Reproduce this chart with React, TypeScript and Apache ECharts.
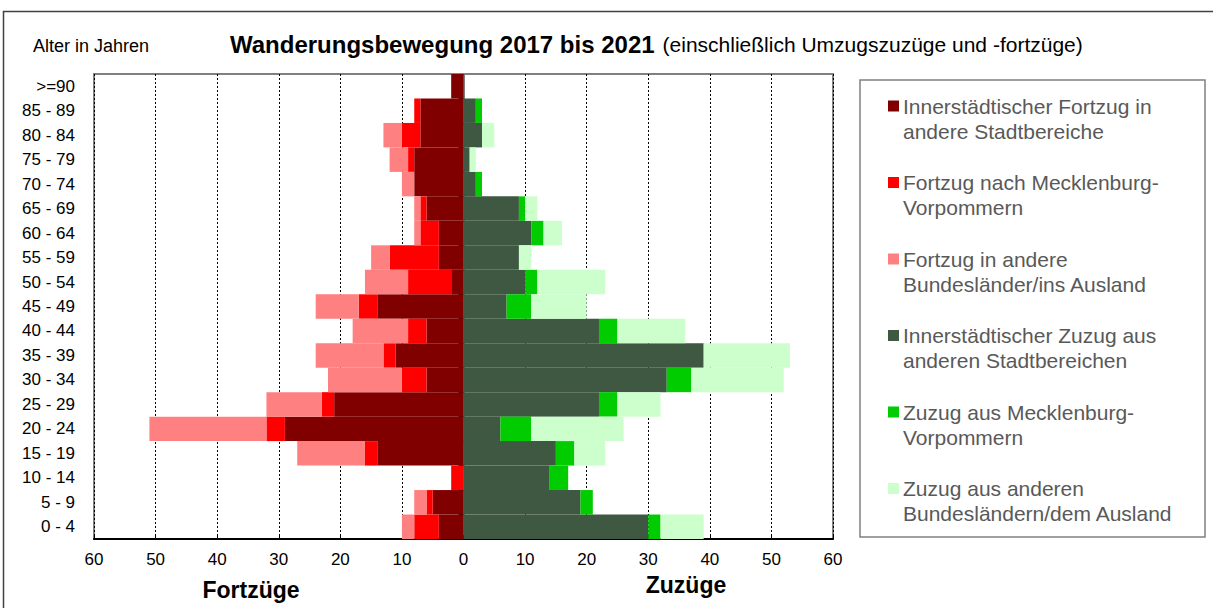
import React, { useEffect, useRef } from "react";
import * as echarts from "echarts";

const categories = ["0 - 4", "5 - 9", "10 - 14", "15 - 19", "20 - 24", "25 - 29", "30 - 34", "35 - 39", "40 - 44", "45 - 49", "50 - 54", "55 - 59", "60 - 64", "65 - 69", "70 - 74", "75 - 79", "80 - 84", "85 - 89", ">=90"];

// Fortzüge (drawn to the left)
const fortInnerstaedtisch = [4, 5, 0, 14, 29, 21, 6, 11, 6, 14, 2, 4, 4, 6, 8, 8, 7, 7, 2];
const fortMV = [4, 1, 2, 2, 3, 2, 4, 2, 3, 3, 7, 8, 3, 1, 0, 1, 3, 1, 0];
const fortAndere = [2, 2, 0, 11, 19, 9, 12, 11, 9, 7, 7, 3, 1, 1, 2, 3, 3, 0, 0];

// Zuzüge (drawn to the right)
const zuInnerstaedtisch = [30, 19, 14, 15, 6, 22, 33, 39, 22, 7, 10, 9, 11, 9, 2, 1, 3, 2, 0];
const zuMV = [2, 2, 3, 3, 5, 3, 4, 0, 3, 4, 2, 0, 2, 1, 1, 0, 0, 1, 0];
const zuAndere = [7, 0, 0, 5, 15, 7, 15, 14, 11, 9, 11, 2, 3, 2, 0, 1, 2, 0, 0];

const xTicks = { min: -60, max: 60, interval: 10 };

const seriesNames = [
  "Innerstädtischer Fortzug in\nandere Stadtbereiche",
  "Fortzug nach Mecklenburg-\nVorpommern",
  "Fortzug in andere\nBundesländer/ins Ausland",
  "Innerstädtischer Zuzug aus\nanderen Stadtbereichen",
  "Zuzug aus Mecklenburg-\nVorpommern",
  "Zuzug aus anderen\nBundesländern/dem Ausland",
];
const seriesColors = ["#800000", "#FF0000", "#FF8080", "#3E5842", "#00CC00", "#CCFFCC"];

export default function App() {
  const ref = useRef<HTMLDivElement>(null);
  useEffect(() => {
    if (!ref.current) return;
    const chart = echarts.init(ref.current, null, { renderer: "svg" });
    const dataSets = [
      fortInnerstaedtisch.map((v) => -v),
      fortMV.map((v) => -v),
      fortAndere.map((v) => -v),
      zuInnerstaedtisch,
      zuMV,
      zuAndere,
    ];
    const font = "Arial, 'Liberation Sans', sans-serif";
    const legendGraphics: any[] = [];
    seriesNames.forEach((name, i) => {
      const cy = 106 + i * 76.5;
      legendGraphics.push({
        type: "rect",
        shape: { x: 888, y: cy - 5.5, width: 11, height: 11 },
        style: { fill: seriesColors[i] },
      });
      legendGraphics.push({
        type: "text",
        x: 903,
        y: cy - 12.5,
        style: {
          text: name,
          font: `21px ${font}`,
          fill: "#595959",
          lineHeight: 25,
          verticalAlign: "top",
        },
      });
    });
    chart.setOption({
      animation: false,
      textStyle: { fontFamily: font },
      grid: {
        left: 94,
        right: 380,
        top: 74,
        bottom: 69,
        show: true,
        borderColor: "#808080",
        borderWidth: 2,
      },
      xAxis: {
        type: "value",
        min: xTicks.min,
        max: xTicks.max,
        interval: xTicks.interval,
        axisLine: { show: true, onZero: false, lineStyle: { color: "#000", width: 2 } },
        axisTick: { show: true, inside: true, length: 4, lineStyle: { color: "#000" } },
        axisLabel: {
          color: "#000",
          fontSize: 17,
          margin: 12,
          formatter: (v: number) => String(Math.abs(v)),
        },
        splitLine: { show: true, lineStyle: { color: "#000", type: [2, 2], width: 1 } },
      },
      yAxis: {
        type: "category",
        data: categories,
        axisLine: { show: true, lineStyle: { color: "#808080", width: 2 } },
        axisTick: { show: true, inside: false, length: 5, lineStyle: { color: "#000" } },
        axisLabel: { color: "#000", fontSize: 17, margin: 19 },
        splitLine: { show: false },
      },
      series: dataSets.map((d, i) => ({
        type: "bar",
        name: seriesNames[i],
        stack: "total",
        data: d,
        barWidth: "100%",
        barCategoryGap: 0,
        itemStyle: { color: seriesColors[i] },
      })),
      graphic: [
        {
          type: "rect",
          shape: { x: 3.5, y: 11.5, width: 1240, height: 640 },
          style: { fill: "none", stroke: "#404040", lineWidth: 1.5 },
          silent: true,
        },
        {
          type: "text",
          x: 33,
          y: 46,
          style: { text: "Alter in Jahren", font: `18px ${font}`, fill: "#000", verticalAlign: "middle" },
        },
        {
          type: "text",
          x: 230,
          y: 44,
          style: {
            text: "{b|Wanderungsbewegung 2017 bis 2021}{n|(einschließlich Umzugszuzüge und -fortzüge)}",
            verticalAlign: "middle",
            rich: {
              b: { font: `bold 24px ${font}`, fill: "#000" },
              n: { font: `21px ${font}`, fill: "#000", padding: [0, 0, 0, 8] },
            },
          },
        },
        {
          type: "text",
          x: 251,
          y: 590,
          style: { text: "Fortzüge", font: `bold 23px ${font}`, fill: "#000", align: "center", verticalAlign: "middle" },
        },
        {
          type: "text",
          x: 686,
          y: 585,
          style: { text: "Zuzüge", font: `bold 23px ${font}`, fill: "#000", align: "center", verticalAlign: "middle" },
        },
        {
          type: "rect",
          shape: { x: 860, y: 80, width: 345, height: 457 },
          style: { fill: "#fff", stroke: "#808080", lineWidth: 1.5 },
        },
        ...legendGraphics,
      ],
    });
    return () => chart.dispose();
  }, []);
  return (
    <div
      ref={ref}
      style={{ position: "fixed", left: 0, top: 0, width: 1213, height: 608, background: "#fff" }}
    />
  );
}
